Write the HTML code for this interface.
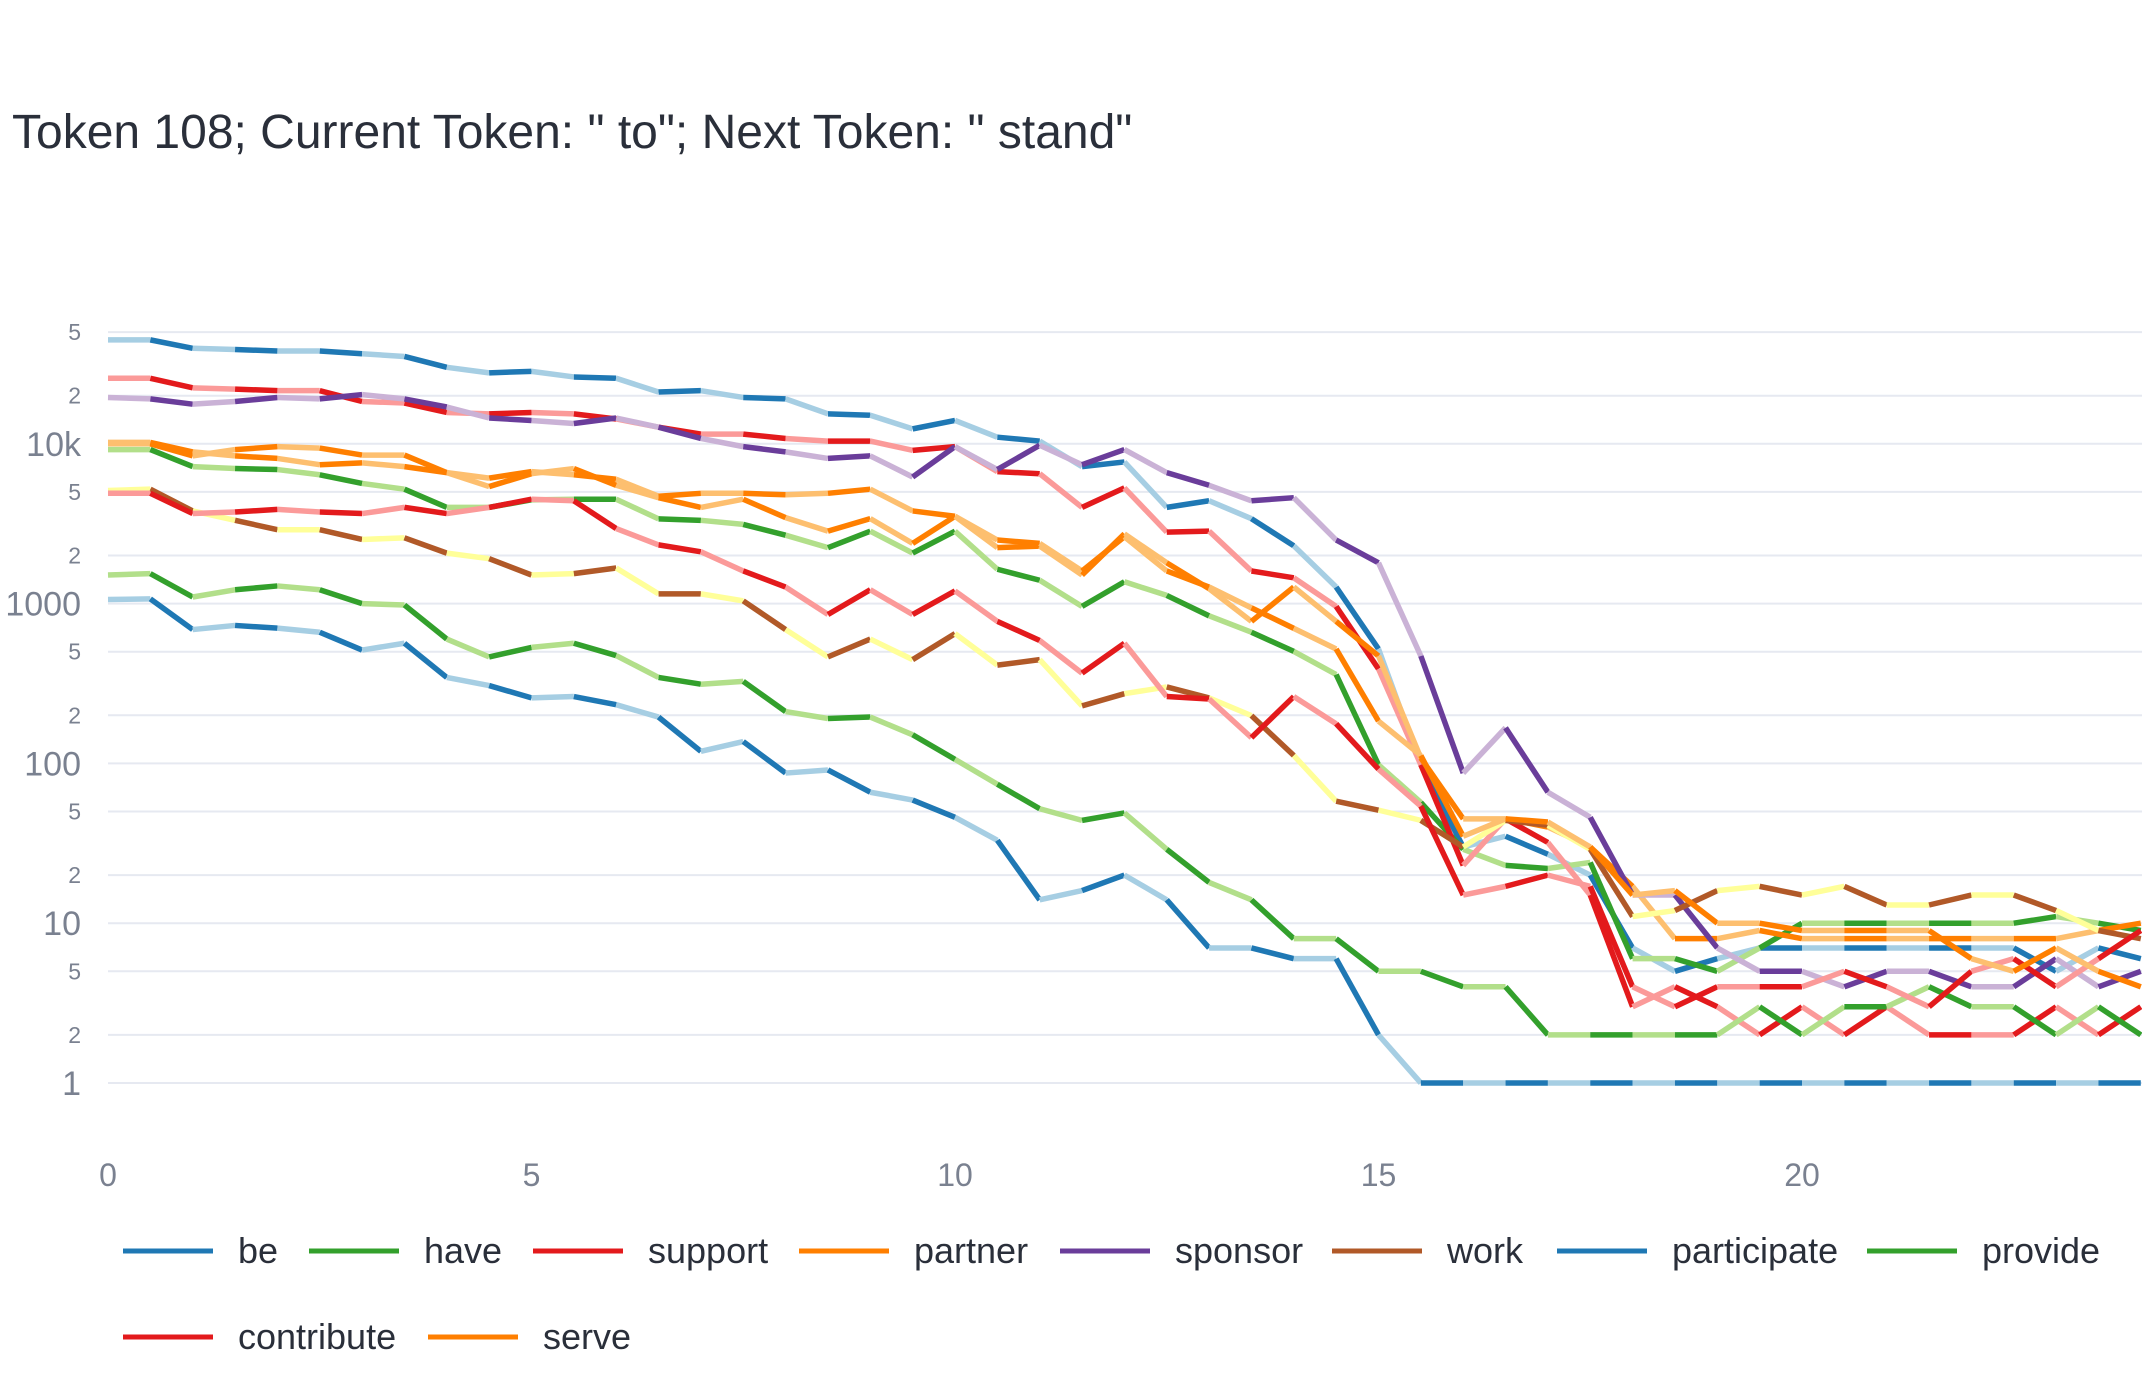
<!DOCTYPE html>
<html><head><meta charset="utf-8"><style>
html,body{margin:0;padding:0;background:#fff;}
svg{display:block;font-family:"Liberation Sans",Arial,sans-serif;}
</style></head><body>
<svg id="chart" width="2142" height="1380" viewBox="0 0 2142 1380">
<text x="12" y="148" font-size="48" fill="#2a2f3a">Token 108; Current Token: " to"; Next Token: " stand"</text>
<defs><clipPath id="pc"><rect x="100" y="290" width="2042" height="820"/></clipPath></defs>
<g id="grid"></g><g id="yticks"></g><g id="xticks"></g>
<g id="lines" clip-path="url(#pc)"></g>
<g id="legend"></g>
</svg>
<script>
const seriesNames = ["be","have","support","partner","sponsor","work","participate","provide","contribute","serve"];
const darkColors = ["#1f78b4","#33a02c","#e31a1c","#ff7f00","#6a3d9a","#b15928","#1f78b4","#33a02c","#e31a1c","#ff7f00"];
const lightColors = ["#a6cee3","#b2df8a","#fb9a99","#fdbf6f","#cab2d6","#ffff99","#a6cee3","#b2df8a","#fb9a99","#fdbf6f"];
const xValues = Array.from({length:49},(_, i)=>i*0.5);
const beVals = [44700,44700,39600,38900,38100,38100,36600,35200,30100,27800,28400,26200,25700,21100,21500,19500,19100,15400,15100,12400,14000,11000,10400,7200,7700,4000,4400,3400,2300,1270,520,98,30,35,27,20,7,5,6,7,7,7,7,7,7,7,5,7,6];
const haveVals = [9200,9200,7200,7000,6900,6400,5650,5200,4000,4000,4460,4500,4500,3390,3320,3130,2680,2240,2840,2070,2840,1640,1400,960,1370,1125,838,662,502,360,98,57,29,23,22,24,6,6,5,7,10,10,10,10,10,10,11,10,9];
const supportVals = [25700,25700,22400,22000,21500,21500,18400,18000,15700,15400,15700,15400,14300,12700,11500,11500,10800,10400,10400,9100,9600,6700,6500,4000,5300,2800,2840,1600,1450,960,390,98,23,45,32,15,3,4,3,2,3,2,3,2,2,2,3,2,3];
const partnerVals = [10000,10000,8400,9200,9600,9400,8500,8500,6600,5400,6500,7000,5500,4600,4000,4500,3450,2840,3400,2380,3520,2240,2290,1510,2730,1800,1240,774,1270,774,470,108,45,45,40,30,17,8,8,9,8,8,8,8,8,8,8,9,10];
const sponsorVals = [19500,19100,17700,18400,19500,19100,20300,19100,17000,14500,14000,13400,14500,12700,10800,9600,8900,8100,8400,6200,9600,6900,9800,7400,9200,6600,5500,4400,4600,2500,1800,470,87,167,66,46,15,15,7,5,5,4,5,5,4,4,6,4,5];
const workVals = [5100,5200,3800,3320,2900,2900,2520,2580,2070,1910,1510,1540,1670,1150,1150,1040,688,464,600,446,649,412,446,229,273,301,257,199,112,58,51,44,30,44,41,29,11,12,16,17,15,17,13,13,15,15,12,9,8];
const participateVals = [1060,1070,688,730,702,662,512,565,345,307,257,262,233,195,119,137,87,91,66,59,46,33,14,16,20,14,7,7,6,6,2,1,1,1,1,1,1,1,1,1,1,1,1,1,1,1,1,1,1];
const provideVals = [1510,1540,1100,1220,1290,1220,1000,980,600,464,532,565,473,345,313,326,211,191,195,151,106,74,52,44,49,29,18,14,8,8,5,5,4,4,2,2,2,2,2,3,2,3,3,4,3,3,2,3,2];
const contributeVals = [4900,4900,3660,3740,3890,3740,3660,4000,3660,4000,4500,4400,2950,2330,2110,1600,1270,855,1220,855,1200,774,588,367,565,262,253,145,262,177,92,54,15,17,20,17,4,3,4,4,4,5,4,3,5,6,4,6,9];
const serveVals = [10200,10200,8900,8400,8100,7400,7600,7200,6600,6100,6700,6400,6000,4700,4900,4900,4800,4900,5200,3800,3520,2500,2380,1600,2620,1600,1270,940,700,520,184,112,35,45,43,30,15,16,10,10,9,9,9,9,6,5,7,5,4];
const yTickVals = [1,2,5,10,20,50,100,200,500,1000,2000,5000,10000,20000,50000];
const yTickLabels = ["1","2","5","10","2","5","100","2","5","1000","2","5","10k","2","5"];
const xTickVals = [0,5,10,15,20];
const allSeries = [beVals,haveVals,supportVals,partnerVals,sponsorVals,workVals,participateVals,provideVals,contributeVals,serveVals];

const NS = "http://www.w3.org/2000/svg";
const xs = x => 108 + x*84.7;
const ys = v => 1083 - Math.log10(v)*159.8;
function mk(tag, attrs, parent){const e=document.createElementNS(NS,tag);for(const k in attrs)e.setAttribute(k,attrs[k]);parent.appendChild(e);return e;}
const grid=document.getElementById('grid'), yt=document.getElementById('yticks'), xt=document.getElementById('xticks');
yTickVals.forEach((v,i)=>{
  const y=ys(v);
  const g=mk('line',{x1:108,x2:2142,y1:y,y2:y,stroke:'#e6e9f1','stroke-width':2},grid);
  
  
  const major=[1,10,100,1000,10000].includes(v);
  const t=mk('text',{x:81,y:y+(major?12:8),'text-anchor':'end','font-size':major?34:23,fill:'#7a8190'},yt);
  t.textContent=yTickLabels[i];
  
  
});
xTickVals.forEach(v=>{
  const t=mk('text',{x:xs(v),y:1186,'text-anchor':'middle','font-size':32,fill:'#7a8190'},xt);
  t.textContent=String(v);
  
  
});
const lines=document.getElementById('lines');
allSeries.forEach((vals,s)=>{
  const g=mk('g',{},lines);
  
  
  for(let i=0;i<vals.length-1;i++){
    const l=mk('line',{x1:xs(xValues[i]),y1:ys(vals[i]),x2:xs(xValues[i+1]),y2:ys(vals[i+1]),stroke:(i%2===0)?lightColors[s]:darkColors[s],'stroke-width':5.5},g);
    
    
  }
});
const legendPos=[[123,1251],[309,1251],[533,1251],[799,1251],[1060,1251],[1332,1251],[1557,1251],[1867,1251],[123,1337],[428,1337]];
const leg=document.getElementById('legend');
seriesNames.forEach((n,s)=>{
  const [x,y]=legendPos[s];
  const g=mk('g',{},leg);
  
  
  mk('line',{x1:x,x2:x+90,y1:y,y2:y,stroke:darkColors[s],'stroke-width':5},g);
  const t=mk('text',{x:x+115,y:y+12,'font-size':36,fill:'#2a2f3a'},g);
  t.textContent=n;
});
</script>
</body></html>
